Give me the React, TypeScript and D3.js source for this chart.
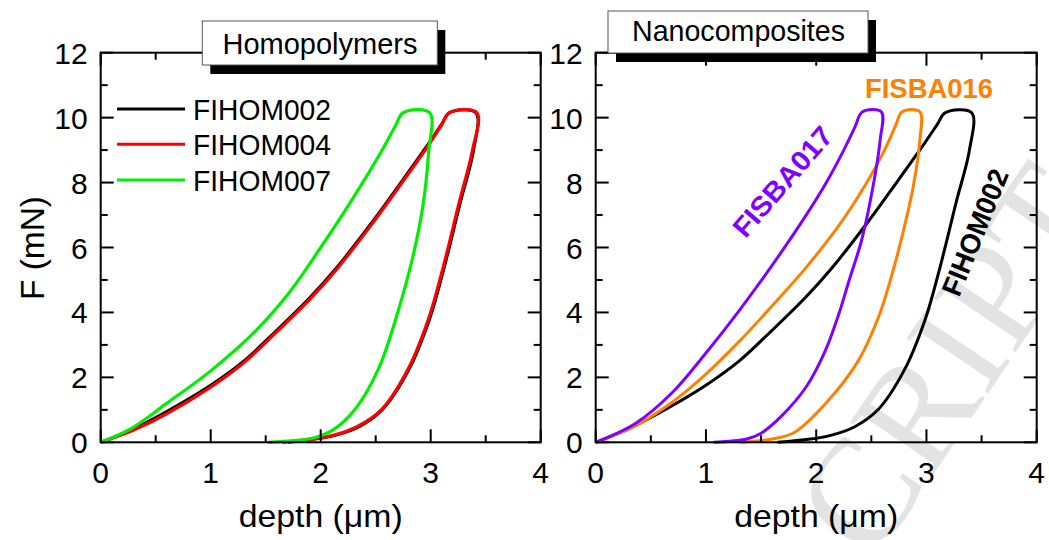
import React from "react";
import * as d3 from "d3";

type Pt = [number, number];

// depth (µm), force (mN)
const fihom002: Pt[] = [
  [0, 0], [0.15, 0.2], [0.29, 0.4], [0.6, 0.95], [1.0, 1.76], [1.3, 2.5], [1.6, 3.45],
  [1.9, 4.45], [2.15, 5.4], [2.45, 6.7], [2.75, 8.1], [2.95, 9.05], [3.1, 9.8], [3.17, 10.15],
  [3.41, 10.15], [3.39, 9.0], [3.27, 7.4], [3.12, 5.35], [2.99, 3.8], [2.8, 2.23],
  [2.56, 1.0], [2.35, 0.48], [2.14, 0.22], [1.95, 0.1], [1.65, 0.0],
];
const fihom004: Pt[] = [
  [0, 0], [0.15, 0.18], [0.29, 0.36], [0.6, 0.88], [1.0, 1.7], [1.3, 2.45], [1.6, 3.4],
  [1.9, 4.4], [2.15, 5.35], [2.45, 6.65], [2.75, 8.05], [2.95, 9.0], [3.1, 9.78], [3.17, 10.15],
  [3.42, 10.15], [3.38, 9.0], [3.26, 7.4], [3.11, 5.35], [2.98, 3.8], [2.79, 2.23],
  [2.55, 1.0], [2.33, 0.48], [2.12, 0.22], [1.93, 0.1], [1.7, 0.0],
];
const fihom007: Pt[] = [
  [0, 0], [0.28, 0.43], [0.6, 1.2], [1.0, 2.2], [1.4, 3.4], [1.7, 4.55], [2.0, 6.0],
  [2.3, 7.55], [2.55, 8.95], [2.68, 9.75], [2.75, 10.15], [2.99, 10.15], [2.98, 8.9],
  [2.93, 7.3], [2.83, 5.6], [2.7, 4.0], [2.53, 2.3], [2.32, 1.05], [2.12, 0.4],
  [1.95, 0.15], [1.75, 0.05], [1.52, 0],
];
const fisba017: Pt[] = [
  [0, 0], [0.36, 0.58], [0.7, 1.55], [1.0, 2.75], [1.3, 4.05], [1.6, 5.45], [1.9, 6.95],
  [2.1, 8.05], [2.25, 9.0], [2.35, 9.7], [2.42, 10.18], [2.59, 10.18], [2.58, 9.31],
  [2.5, 7.6], [2.41, 6.2], [2.3, 5.0], [2.2, 3.9], [2.08, 2.8], [1.91, 1.71],
  [1.68, 0.79], [1.5, 0.28], [1.37, 0.1], [1.07, 0],
];
const fisba016: Pt[] = [
  [0, 0], [0.37, 0.53], [0.7, 1.25], [1.0, 2.1], [1.3, 3.1], [1.6, 4.2], [1.9, 5.35],
  [2.2, 6.65], [2.45, 7.95], [2.62, 9.0], [2.72, 9.75], [2.78, 10.18], [2.94, 10.18], [2.94, 9.31],
  [2.88, 7.87], [2.79, 6.5], [2.69, 5.2], [2.57, 3.9], [2.38, 2.5], [2.1, 1.25],
  [1.8, 0.3], [1.6, 0.1], [1.31, 0],
];

const xTicks = [0, 1, 2, 3, 4];
const yTicks = [0, 2, 4, 6, 8, 10, 12];
const legendNames = ["FIHOM002", "FIHOM004", "FIHOM007"];

const FONT = "Liberation Sans, Arial, Helvetica, sans-serif";
const Y0 = 442.3;
const Y1 = 52.7;

type Series = { data: Pt[]; color: string; width: number };

function Panel({ x0, x1, series }: { x0: number; x1: number; series: Series[] }) {
  const xs = d3.scaleLinear().domain([0, 4]).range([x0, x1]);
  const ys = d3.scaleLinear().domain([0, 12]).range([Y0, Y1]);
  const line = d3
    .line<Pt>()
    .x((d) => xs(d[0]))
    .y((d) => ys(d[1]))
    .curve(d3.curveCatmullRom.alpha(0.5));
  const xMinor = d3.range(0.5, 4, 1);
  const yMinor = d3.range(1, 12, 2);
  const MAJ = 13;
  const MIN = 7;
  return (
    <g>
      {series.map((s, i) => (
        <path key={i} d={line(s.data) || ""} fill="none" stroke={s.color} strokeWidth={s.width} strokeLinejoin="round" />
      ))}
      <rect x={x0} y={Y1} width={x1 - x0} height={Y0 - Y1} fill="none" stroke="#000" strokeWidth={2} />
      {xTicks.map((t) => (
        <g key={"xt" + t}>
          <line x1={xs(t)} x2={xs(t)} y1={Y0} y2={Y0 - MAJ} stroke="#000" strokeWidth={2} />
          <line x1={xs(t)} x2={xs(t)} y1={Y1} y2={Y1 + MAJ} stroke="#000" strokeWidth={2} />
          <text x={xs(t)} y={483} textAnchor="middle" fontSize={30} fontFamily={FONT}>
            {t}
          </text>
        </g>
      ))}
      {xMinor.map((t) => (
        <g key={"xm" + t}>
          <line x1={xs(t)} x2={xs(t)} y1={Y0} y2={Y0 - MIN} stroke="#000" strokeWidth={2} />
          <line x1={xs(t)} x2={xs(t)} y1={Y1} y2={Y1 + MIN} stroke="#000" strokeWidth={2} />
        </g>
      ))}
      {yTicks.map((t) => (
        <g key={"yt" + t}>
          <line x1={x0} x2={x0 + MAJ} y1={ys(t)} y2={ys(t)} stroke="#000" strokeWidth={2} />
          <line x1={x1} x2={x1 - MAJ} y1={ys(t)} y2={ys(t)} stroke="#000" strokeWidth={2} />
          <text x={x0 - 13} y={ys(t) + 11} textAnchor="end" fontSize={30} fontFamily={FONT}>
            {t}
          </text>
        </g>
      ))}
      {yMinor.map((t) => (
        <g key={"ym" + t}>
          <line x1={x0} x2={x0 + MIN} y1={ys(t)} y2={ys(t)} stroke="#000" strokeWidth={2} />
          <line x1={x1} x2={x1 - MIN} y1={ys(t)} y2={ys(t)} stroke="#000" strokeWidth={2} />
        </g>
      ))}
      <text x={(x0 + x1) / 2} y={527} textAnchor="middle" fontSize={32} fontFamily={FONT} textLength={164} lengthAdjust="spacingAndGlyphs">
        depth (μm)
      </text>
    </g>
  );
}

function TitleBox({ x, y, w, h, label, tx, ty, tl }: { x: number; y: number; w: number; h: number; label: string; tx: number; ty: number; tl: number }) {
  return (
    <g>
      <rect x={x + 8} y={y + 9} width={w} height={h} fill="#000" />
      <rect x={x} y={y} width={w} height={h} fill="#fff" stroke="#555" strokeWidth={1} />
      <text x={tx} y={ty} textAnchor="middle" fontSize={30} fontFamily={FONT} textLength={tl} lengthAdjust="spacingAndGlyphs">
        {label}
      </text>
    </g>
  );
}

export default function App() {
  const leftSeries: Series[] = [
    { data: fihom002, color: "#000000", width: 3 },
    { data: fihom004, color: "#ff0000", width: 3.2 },
    { data: fihom007, color: "#00ee00", width: 3.2 },
  ];
  const rightSeries: Series[] = [
    { data: fihom002, color: "#000000", width: 3 },
    { data: fisba016, color: "#ff8000", width: 3 },
    { data: fisba017, color: "#7f00ff", width: 3 },
  ];
  const legendColors = ["#000000", "#ff0000", "#00ee00"];
  const legendY = [109, 144.3, 180];
  return (
    <svg width={1049} height={540} style={{ position: "absolute", left: 0, top: 0, background: "#fff" }}>
      <rect x={0} y={0} width={1049} height={540} fill="#fff" />
      <text
        transform="translate(873,564) rotate(-56)"
        fontSize={150}
        fontFamily="Liberation Serif, Times New Roman, serif"
        fill="#e3e3e3"
      >
        CRIPT
      </text>
      <Panel x0={100.7} x1={540.7} series={leftSeries} />
      <Panel x0={595.7} x1={1036.7} series={rightSeries} />
      <text transform="translate(44,248) rotate(-90)" textAnchor="middle" fontSize={33} fontFamily={FONT} textLength={104} lengthAdjust="spacingAndGlyphs">
        F (mN)
      </text>
      {legendNames.map((n, i) => (
        <g key={n}>
          <line x1={117} x2={185} y1={legendY[i]} y2={legendY[i]} stroke={legendColors[i]} strokeWidth={3} />
          <text x={193} y={legendY[i] + 11} fontSize={30} fontFamily={FONT} textLength={138} lengthAdjust="spacingAndGlyphs">
            {n}
          </text>
        </g>
      ))}
      <TitleBox x={202.3} y={21} w={235} h={44} label="Homopolymers" tx={320} ty={54} tl={195} />
      <TitleBox x={608} y={11} w={260} h={42} label="Nanocomposites" tx={738.5} ty={41} tl={213} />
      <text x={865} y={98} fontSize={28} fontWeight="bold" fontFamily={FONT} fill="#ff8000" textLength={128} lengthAdjust="spacingAndGlyphs">
        FISBA016
      </text>
      <text transform="translate(790,188) rotate(-49)" textAnchor="middle" fontSize={28} fontWeight="bold" fontFamily={FONT} fill="#7f00ff" textLength={136} lengthAdjust="spacingAndGlyphs">
        FISBA017
      </text>
      <text transform="translate(984,236) rotate(-68)" textAnchor="middle" fontSize={28} fontWeight="bold" fontFamily={FONT} fill="#000" textLength={134} lengthAdjust="spacingAndGlyphs">
        FIHOM002
      </text>
    </svg>
  );
}
